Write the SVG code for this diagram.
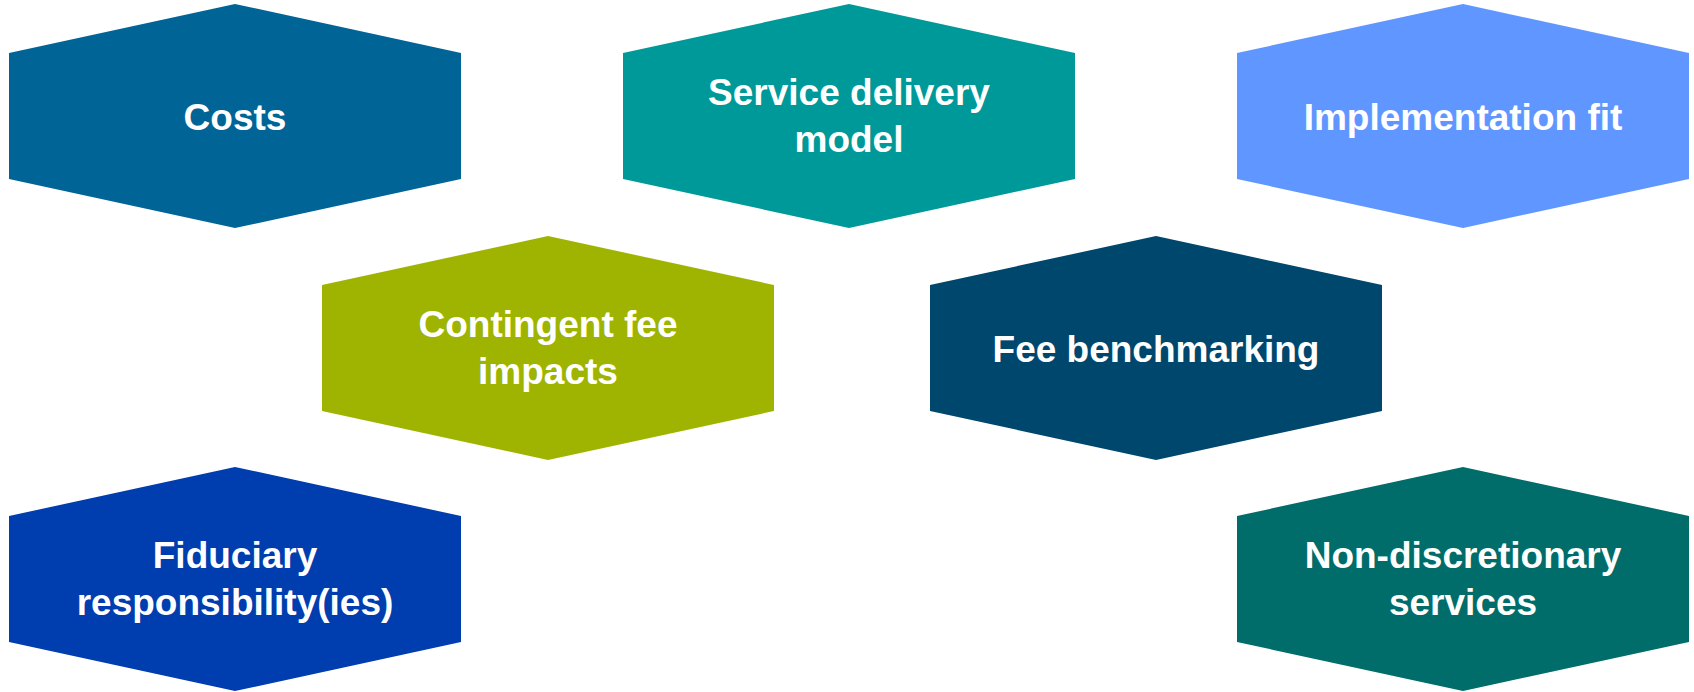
<svg xmlns="http://www.w3.org/2000/svg" xmlns:xlink="http://www.w3.org/1999/xlink" width="1694" height="692" viewBox="0 0 1694 692">
<style>
.lbl{font-family:"Liberation Sans",Arial,sans-serif;font-weight:bold;font-size:37px;fill:#FFFFFF;text-anchor:middle}
</style>
<defs>
<polygon id="hex" points="0,49 226,0 452,49 452,175 226,224 0,175"/>
</defs>
<rect width="1694" height="692" fill="#FFFFFF"/>
<g id="connectors"/>
<g id="costs" transform="translate(9,4)">
<use xlink:href="#hex" href="#hex" fill="#006497"/>
<text class="lbl" x="226" y="126">Costs</text>
</g>
<g id="service-delivery-model" transform="translate(623,4)">
<use xlink:href="#hex" href="#hex" fill="#009999"/>
<text class="lbl" x="226" y="101">Service delivery</text>
<text class="lbl" x="226" y="148">model</text>
</g>
<g id="implementation-fit" transform="translate(1237,4)">
<use xlink:href="#hex" href="#hex" fill="#6096FF"/>
<text class="lbl" x="226" y="126">Implementation fit</text>
</g>
<g id="contingent-fee-impacts" transform="translate(322,236)">
<use xlink:href="#hex" href="#hex" fill="#9FB400"/>
<text class="lbl" x="226" y="101">Contingent fee</text>
<text class="lbl" x="226" y="148">impacts</text>
</g>
<g id="fee-benchmarking" transform="translate(930,236)">
<use xlink:href="#hex" href="#hex" fill="#00476E"/>
<text class="lbl" x="226" y="126">Fee benchmarking</text>
</g>
<g id="fiduciary-responsibilities" transform="translate(9,467)">
<use xlink:href="#hex" href="#hex" fill="#003DAE"/>
<text class="lbl" x="226" y="101">Fiduciary</text>
<text class="lbl" x="226" y="148">responsibility(ies)</text>
</g>
<g id="non-discretionary-services" transform="translate(1237,467)">
<use xlink:href="#hex" href="#hex" fill="#006D6A"/>
<text class="lbl" x="226" y="101">Non-discretionary</text>
<text class="lbl" x="226" y="148">services</text>
</g>
</svg>
